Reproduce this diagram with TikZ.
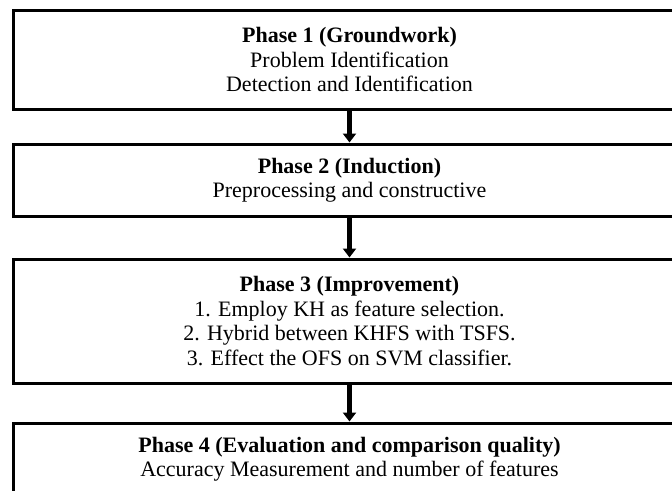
\documentclass[tikz,border=0pt]{standalone}
\usepackage{fontspec}
\setmainfont{Liberation Serif}
\usetikzlibrary{arrows.meta}
\tikzset{
  phasebox/.style={draw=black, line width=3pt, fill=white, minimum width=673pt,
    align=center, inner sep=0pt, font=\fontsize{22pt}{24.5pt}\selectfont},
  flowarrow/.style={line width=4.5pt, -{Triangle[width=13pt,length=9pt]}}
}
\begin{document}
\begin{tikzpicture}[x=1pt,y=-1pt]
\useasboundingbox (0,0) rectangle (672,490);
\clip (0,0) rectangle (672,490);
\fill[white] (0,0) rectangle (672,490);
\node[phasebox, minimum height=99pt] (b1) at (349.5,59.5)
  {\textbf{Phase 1 (Groundwork)}\\Problem Identification\\Detection and Identification};
\node[phasebox, minimum height=72pt] (b2) at (349.5,180)
  {\textbf{Phase 2 (Induction)}\\Preprocessing and constructive};
\node[phasebox, minimum height=124pt] (b3) at (349.5,321)
  {\textbf{Phase 3 (Improvement)}\\1. Employ KH as feature selection.\\2. Hybrid between KHFS with TSFS.\\3. Effect the OFS on SVM classifier.};
\node[phasebox, minimum height=72pt] (b4) at (349.5,459)
  {\textbf{Phase 4 (Evaluation and comparison quality)}\\Accuracy Measurement and number of features};
\draw[flowarrow] (b1.south) -- (b2.north);
\draw[flowarrow] (b2.south) -- (b3.north);
\draw[flowarrow] (b3.south) -- (b4.north);
\end{tikzpicture}
\end{document}
